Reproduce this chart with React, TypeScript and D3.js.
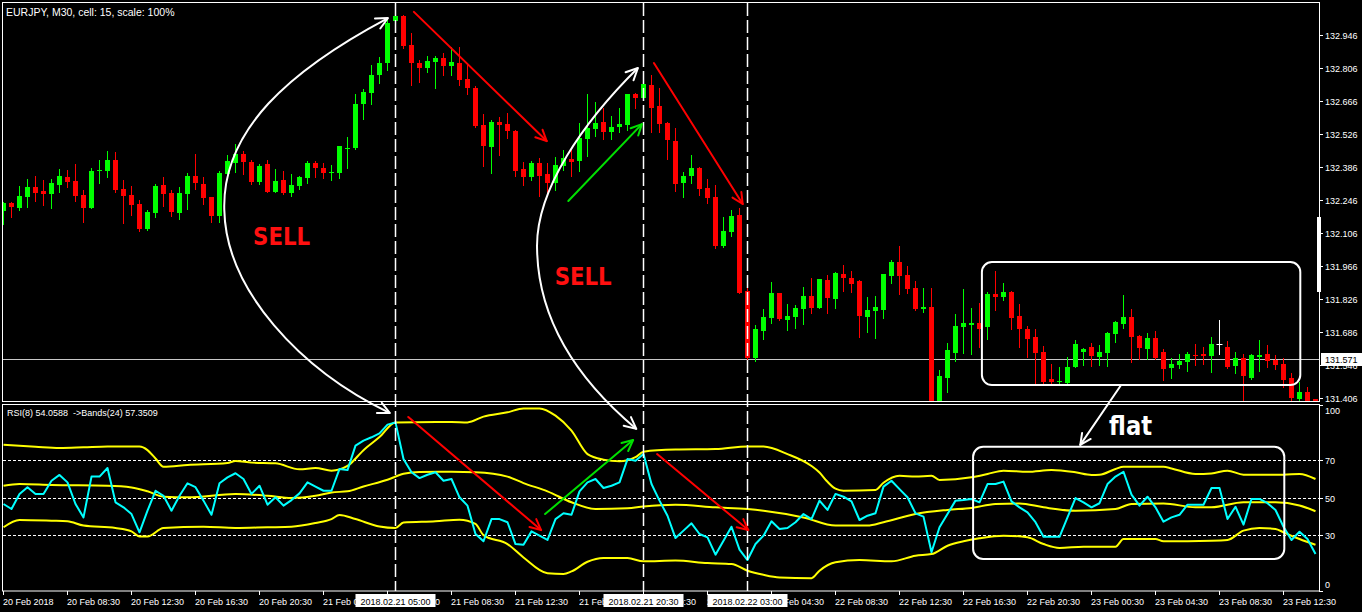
import React, { useEffect, useRef } from "react";
import * as d3 from "d3";

const symbolTitle = "EURJPY, M30, cell: 15, scale: 100%";
const rsiTitle = "RSI(8) 54.0588  ->Bands(24) 57.3509";

const candleOpen = [
  132.201,132.232,132.212,132.260,132.300,132.284,132.273,132.310,132.344,132.327,
  132.267,132.213,132.369,132.370,132.416,132.293,132.267,132.229,132.122,132.192,
  132.310,132.277,132.192,132.271,132.348,132.314,132.259,132.178,132.358,132.404,
  132.441,132.409,132.322,132.399,132.280,132.330,132.277,132.307,132.341,132.402,
  132.380,132.359,132.362,132.464,132.468,132.652,132.701,132.775,132.826,133.005,
  133.027,132.904,132.829,132.807,132.833,132.848,132.816,132.829,132.759,132.722,
  132.564,132.472,132.578,132.568,132.539,132.378,132.345,132.404,132.356,132.319,
  132.390,132.421,132.411,132.506,132.546,132.577,132.536,132.556,132.565,132.696,
  132.680,132.734,132.645,132.574,132.498,132.319,132.348,132.383,132.297,132.260,
  132.051,132.112,132.182,131.860,131.577,131.690,131.747,131.850,131.737,131.751,
  131.784,131.839,131.789,131.907,131.826,131.932,131.914,131.902,131.751,131.776,
  131.779,131.925,131.983,131.928,131.871,131.784,131.792,131.363,131.492,131.598,
  131.708,131.717,131.723,131.707,131.847,131.836,131.856,131.754,131.699,131.665,
  131.601,131.487,131.472,131.471,131.539,131.602,131.622,131.581,131.598,131.677,
  131.720,131.750,131.669,131.614,131.659,131.601,131.534,131.546,131.560,131.588,
  131.593,131.585,131.634,131.622,131.543,131.574,131.489,131.581,131.591,131.567,
  131.550,131.492,131.400,131.431,131.400
];
const candleHigh = [
  132.238,132.239,132.305,132.335,132.348,132.331,132.335,132.376,132.373,132.399,
  132.288,132.380,132.416,132.454,132.450,132.331,132.305,132.246,132.204,132.314,
  132.345,132.288,132.302,132.359,132.441,132.345,132.260,132.369,132.437,132.484,
  132.454,132.416,132.399,132.416,132.376,132.370,132.356,132.349,132.410,132.411,
  132.402,132.395,132.475,132.513,132.694,132.718,132.819,132.854,133.010,133.035,
  133.031,132.956,132.840,132.857,132.857,132.868,132.896,132.896,132.826,132.730,
  132.611,132.585,132.599,132.616,132.543,132.406,132.413,132.423,132.404,132.427,
  132.458,132.465,132.571,132.694,132.663,132.635,132.602,132.635,132.696,132.700,
  132.741,132.776,132.722,132.578,132.550,132.364,132.437,132.387,132.335,132.310,
  132.175,132.204,132.213,131.882,131.716,131.784,131.899,131.851,131.805,131.801,
  131.877,131.915,131.912,131.927,131.941,131.970,131.945,131.907,131.833,131.839,
  131.932,131.991,132.051,131.966,131.902,131.871,131.871,131.525,131.638,131.762,
  131.867,131.788,131.808,131.856,131.945,131.893,131.860,131.805,131.711,131.697,
  131.627,131.549,131.539,131.581,131.652,131.618,131.638,131.631,131.686,131.733,
  131.843,131.782,131.673,131.680,131.690,131.613,131.574,131.593,131.602,131.635,
  131.622,131.666,131.737,131.646,131.602,131.593,131.593,131.652,131.631,131.588,
  131.574,131.513,131.474,131.454,131.402
];
const candleLow = [
  132.144,132.175,132.204,132.218,132.243,132.225,132.213,132.280,132.300,132.242,
  132.154,132.212,132.319,132.345,132.279,132.150,132.182,132.116,132.119,132.175,
  132.221,132.178,132.165,132.208,132.293,132.229,132.151,132.151,132.356,132.365,
  132.356,132.314,132.314,132.278,132.278,132.271,132.263,132.293,132.317,132.345,
  132.338,132.331,132.341,132.380,132.462,132.588,132.652,132.744,132.798,132.993,
  132.890,132.734,132.748,132.790,132.722,132.776,132.776,132.734,132.696,132.554,
  132.390,132.362,132.437,132.508,132.348,132.310,132.331,132.263,132.281,132.288,
  132.373,132.348,132.370,132.434,132.518,132.504,132.504,132.536,132.543,132.638,
  132.677,132.536,132.533,132.420,132.285,132.260,132.319,132.269,132.235,132.044,
  132.047,132.093,131.851,131.570,131.564,131.656,131.723,131.737,131.694,131.704,
  131.720,131.767,131.786,131.765,131.789,131.861,131.857,131.666,131.685,131.659,
  131.744,131.895,131.847,131.850,131.779,131.772,131.334,131.347,131.433,131.564,
  131.596,131.593,131.624,131.655,131.779,131.822,131.697,131.624,131.579,131.471,
  131.471,131.471,131.465,131.469,131.537,131.546,131.542,131.546,131.543,131.645,
  131.702,131.560,131.571,131.571,131.571,131.482,131.492,131.532,131.520,131.546,
  131.550,131.517,131.593,131.532,131.513,131.390,131.487,131.522,131.539,131.528,
  131.454,131.394,131.393,131.389,131.380
];
const candleClose = [
  132.235,132.215,132.263,132.300,132.277,132.273,132.318,132.348,132.324,132.264,
  132.213,132.369,132.373,132.416,132.288,132.264,132.226,132.122,132.196,132.305,
  132.271,132.195,132.277,132.348,132.317,132.256,132.178,132.362,132.411,132.441,
  132.407,132.322,132.392,132.280,132.325,132.277,132.310,132.342,132.403,132.380,
  132.362,132.364,132.475,132.468,132.652,132.704,132.775,132.826,132.999,133.027,
  132.901,132.829,132.807,132.836,132.848,132.816,132.833,132.755,132.722,132.560,
  132.475,132.578,132.564,132.539,132.369,132.345,132.404,132.348,132.319,132.395,
  132.424,132.407,132.510,132.551,132.571,132.536,132.556,132.568,132.696,132.680,
  132.737,132.638,132.568,132.501,132.314,132.348,132.383,132.293,132.256,132.051,
  132.114,132.179,131.853,131.577,131.699,131.750,131.850,131.740,131.754,131.789,
  131.839,131.789,131.910,131.831,131.936,131.916,131.890,131.755,131.779,131.792,
  131.932,131.983,131.925,131.868,131.784,131.792,131.355,131.499,131.610,131.711,
  131.723,131.723,131.700,131.847,131.836,131.856,131.747,131.700,131.658,131.598,
  131.475,131.475,131.478,131.539,131.635,131.614,131.584,131.601,131.682,131.728,
  131.750,131.665,131.618,131.659,131.574,131.529,131.550,131.563,131.593,131.584,
  131.585,131.635,131.634,131.539,131.574,131.499,131.588,131.588,131.564,131.546,
  131.482,131.408,131.431,131.394,131.393
];

const rsiValues = [
  46.6,43.9,52.0,55.6,52.0,52.0,59.1,62.2,58.2,46.6,
  39.4,61.3,61.3,65.9,47.5,44.8,41.2,31.4,43.0,53.7,
  51.0,43.0,51.0,57.7,55.6,48.4,40.8,57.7,60.9,63.1,
  60.0,52.0,56.4,46.2,50.2,45.7,48.7,52.3,58.2,55.9,
  53.7,53.7,65.4,64.8,77.9,80.6,82.4,84.5,89.2,90.4,
  70.7,63.6,60.5,62.3,63.6,59.1,60.0,50.2,45.7,30.5,
  26.6,38.5,38.5,36.8,25.1,24.7,31.9,29.6,27.3,38.5,
  41.6,40.8,53.4,58.2,60.0,55.2,56.4,58.2,70.7,69.8,
  73.4,57.3,48.4,40.3,28.3,32.3,36.2,30.5,28.7,19.4,
  26.9,34.4,22.1,16.5,25.1,29.6,37.3,33.2,33.7,36.8,
  41.2,38.5,48.4,43.4,52.0,50.5,48.0,38.0,40.3,41.6,
  55.9,59.1,54.6,50.2,41.6,39.8,20.7,34.1,41.2,48.4,
  48.7,49.3,47.5,57.3,57.3,58.6,48.0,44.8,42.1,36.8,
  29.0,29.0,29.0,39.4,49.8,47.5,44.8,47.0,57.3,61.3,
  63.9,51.6,45.7,50.5,44.8,37.1,39.4,40.8,46.2,46.2,
  46.2,55.2,55.2,38.5,45.1,35.5,49.3,49.3,47.0,43.4,
  34.4,27.3,31.7,27.8,19.8
];

// Bollinger bands on RSI: [bar index, value]
const bandUpper: [number, number][] = [
  [0,78.4],[4,77.3],[7,76.6],[10,77.0],[13,77.5],[17,77.4],[18,75.5],[19,71.0],[20,66.6],[23,67.5],
  [28,68.6],[29,69.7],[31,68.8],[34,68.4],[37,65.2],[39,65.9],[41,64.5],[43,67.0],[45,75.5],[47,82.5],
  [49,90.4],[56,90.6],[58,90.4],[60,93.5],[63,95.8],[65,97.9],[67,97.9],[69,94.0],[71,86.0],[73,73.4],
  [75,70.4],[77,69.5],[79,71.7],[80,74.7],[84,75.8],[89,76.1],[93,77.5],[95,77.4],[98,73.4],[101,67.0],
  [102,63.5],[103,58.5],[104,54.8],[105,53.7],[109,54.1],[110,58.0],[112,61.8],[114,61.3],[116,61.8],[117,59.5],
  [121,60.9],[123,62.7],[125,64.5],[128,63.9],[131,64.8],[134,63.6],[136,62.2],[137,62.3],[139,65.4],[140,66.6],
  [145,66.6],[146,65.7],[149,62.7],[151,63.0],[153,64.5],[155,62.3],[160,62.3],[162,62.7],[164,60.0]
];
const bandMiddle: [number, number][] = [
  [0,56.4],[2,57.3],[6,56.8],[13,56.4],[16,55.5],[18,53.4],[20,50.5],[23,50.2],[29,51.9],[33,51.0],
  [36,49.8],[39,51.0],[41,52.8],[43,53.4],[45,56.0],[48,59.6],[50,62.8],[52,63.8],[56,63.9],[59,63.6],
  [63,61.3],[65,57.8],[68,53.4],[71,47.5],[74,43.9],[78,44.3],[80,45.3],[84,46.2],[89,44.8],[93,43.9],
  [95,43.0],[100,39.4],[104,35.0],[108,35.0],[110,36.8],[114,41.2],[118,43.4],[121,44.5],[124,46.6],[127,46.9],
  [130,44.8],[134,43.0],[139,43.9],[141,46.6],[145,46.9],[149,44.8],[151,44.8],[155,47.5],[159,47.5],[162,45.8],
  [164,42.7]
];
const bandLower: [number, number][] = [
  [0,34.1],[2,38.0],[6,37.6],[8,37.3],[10,35.0],[14,33.7],[16,31.9],[17,29.2],[18,29.2],[20,33.7],
  [25,34.4],[29,33.7],[33,34.1],[36,34.4],[39,36.4],[41,38.5],[42,40.7],[44,38.5],[47,34.5],[49,33.7],
  [50,36.6],[54,37.3],[57,38.2],[59,35.9],[60,29.9],[63,25.1],[65,17.9],[68,9.4],[70,9.0],[71,10.4],
  [73,15.6],[75,17.6],[78,17.6],[80,15.8],[84,16.2],[88,14.9],[91,14.4],[93,10.8],[95,8.6],[97,7.2],
  [101,6.8],[102,10.8],[104,15.3],[107,16.5],[111,15.8],[114,18.8],[116,19.7],[118,24.2],[120,26.6],[122,28.2],
  [125,29.6],[128,28.7],[130,25.1],[132,23.0],[135,23.7],[139,23.7],[140,27.8],[144,27.8],[145,26.6],[151,26.9],
  [153,27.3],[155,32.3],[157,33.7],[159,33.2],[160,31.4],[162,27.8],[164,24.7]
];

const priceTicks = [132.946,132.806,132.666,132.526,132.386,132.246,132.106,131.966,131.826,131.686,131.546,131.406];
const rsiTicks = [100, 70, 50, 30, 0];
const rsiLevels = [70, 50, 30];
const currentPrice = 131.571;

const timeTickIndex = [0,8,16,24,32,40,48,56,64,72,80,88,96,104,112,120,128,136,144,152,160];
const timeTickLabels = [
  "20 Feb 2018","20 Feb 08:30","20 Feb 12:30","20 Feb 16:30","20 Feb 20:30",
  "21 Feb 00:30","21 Feb 04:30","21 Feb 08:30","21 Feb 12:30","21 Feb 16:30",
  "21 Feb 20:30","22 Feb 00:30","22 Feb 04:30","22 Feb 08:30","22 Feb 12:30",
  "22 Feb 16:30","22 Feb 20:30","23 Feb 00:30","23 Feb 04:30","23 Feb 08:30","23 Feb 12:30"
];
const markerIndex = [49, 80, 93];
const markerLabels = ["2018.02.21 05:00", "2018.02.21 20:30", "2018.02.22 03:00"];

// annotations, in chart coordinates [bar index, price] or [bar index, rsi]
const leftCurvePrice: [number, number][] = [[48.06,133.018],[35.8,132.797],[27.3,132.543],[27.6,132.204],[27.8,131.864],[37.1,131.525]];
const leftCurveRsiEnd: [number, number] = [48.3, 95.4];
const rightCurvePrice: [number, number][] = [[79.3,132.806],[72.7,132.585],[66.4,132.288],[66.7,132.034],[66.9,131.694],[73.3,131.440]];
const rightCurveRsiEnd: [number, number] = [79.1, 86.9];
const redArrowsPrice = [[51.3,133.044,67.9,132.496],[81.3,132.827,92.4,132.229]];
const greenArrowsPrice = [[70.6,132.242,79.8,132.568]];
const redArrowsRsi = [[50.6,93.3,67.2,32.6],[81.7,73.4,93.1,32.6]];
const greenArrowsRsi = [[67.7,41.2,78.7,80.9]];
const flatArrowFrom: [number, number] = [139.7, 131.461];
const flatArrowToRsi: [number, number] = [134.6, 78.3];
const flatBoxPrice = [122.3, 131.983, 162.1, 131.461];
const flatBoxRsi = [121.2, 77.3, 160.1, 17.1];
const sellLabels: [number, number][] = [[31.2, 132.055], [68.9, 131.885]];
const flatLabel: [number, number] = [138.2, 83.6];

const FONT = "'Liberation Sans', Arial, sans-serif";

export default function App() {
  const ref = useRef<SVGSVGElement | null>(null);

  useEffect(() => {
    const svg = d3.select(ref.current);
    svg.selectAll("*").remove();

    const x = d3.scaleLinear().domain([0, 1]).range([3.5, 11.5]);
    const yP = d3.scaleLinear().domain([131.406, 132.946]).range([398, 35]);
    const yR = d3.scaleLinear().domain([0, 100]).range([590.8, 404.5]);

    svg.append("rect").attr("width", 1362).attr("height", 612).attr("fill", "#000");

    const defs = svg.append("defs");
    defs.append("clipPath").attr("id", "clipMain").append("rect")
      .attr("x", 3).attr("y", 3).attr("width", 1316).attr("height", 398);
    defs.append("clipPath").attr("id", "clipRsi").append("rect")
      .attr("x", 3).attr("y", 405).attr("width", 1316).attr("height", 186);

    // panel frames
    svg.append("rect").attr("x", 2.5).attr("y", 2.5).attr("width", 1317).attr("height", 399)
      .attr("fill", "none").attr("stroke", "#fff").attr("stroke-width", 1);
    svg.append("rect").attr("x", 2.5).attr("y", 404.5).attr("width", 1317).attr("height", 186.5)
      .attr("fill", "none").attr("stroke", "#fff").attr("stroke-width", 1);

    // current price line
    const yCur = Math.round(yP(currentPrice)) + 0.5;
    svg.append("line").attr("x1", 3).attr("x2", 1319).attr("y1", yCur).attr("y2", yCur)
      .attr("stroke", "#c8c8c8").attr("stroke-width", 1);

    // candles
    const gC = svg.append("g").attr("clip-path", "url(#clipMain)");
    candleOpen.forEach((o, i) => {
      const c = candleClose[i], h = candleHigh[i], l = candleLow[i];
      const col = c > o ? "#00ff00" : c < o ? "#ff0000" : "#ffffff";
      const cx = x(i);
      gC.append("line").attr("x1", cx).attr("x2", cx)
        .attr("y1", Math.round(yP(h))).attr("y2", Math.round(yP(l)) + 1)
        .attr("stroke", col).attr("stroke-width", 1);
      const yt = Math.round(yP(Math.max(o, c)));
      const yb = Math.round(yP(Math.min(o, c)));
      if (c === o) {
        gC.append("line").attr("x1", cx - 3).attr("x2", cx + 3).attr("y1", yt + 0.5).attr("y2", yt + 0.5)
          .attr("stroke", col).attr("stroke-width", 1);
      } else {
        gC.append("rect").attr("x", cx - 2.5).attr("width", 5)
          .attr("y", yt).attr("height", Math.max(1, yb - yt)).attr("fill", col);
      }
    });

    // RSI levels
    rsiLevels.forEach((v) => {
      const yy = Math.round(yR(v)) + 0.5;
      svg.append("line").attr("x1", 3).attr("x2", 1319).attr("y1", yy).attr("y2", yy)
        .attr("stroke", "#fff").attr("stroke-width", 1).attr("stroke-dasharray", "3,2");
    });

    // bands and RSI
    const gR = svg.append("g").attr("clip-path", "url(#clipRsi)");
    const bandLine = d3.line<[number, number]>().x((d) => x(d[0])).y((d) => yR(d[1])).curve(d3.curveMonotoneX);
    [bandUpper, bandMiddle, bandLower].forEach((b) => {
      gR.append("path").attr("d", bandLine(b) as string).attr("fill", "none")
        .attr("stroke", "#ffff00").attr("stroke-width", 2).attr("stroke-linejoin", "round");
    });
    const rsiLine = d3.line<number>().x((_d, i) => x(i)).y((d) => yR(d));
    gR.append("path").attr("d", rsiLine(rsiValues) as string).attr("fill", "none")
      .attr("stroke", "#00ffff").attr("stroke-width", 2).attr("stroke-linejoin", "round");

    // vertical dashed markers
    markerIndex.forEach((i) => {
      svg.append("line").attr("x1", x(i)).attr("x2", x(i)).attr("y1", 3).attr("y2", 591)
        .attr("stroke", "#fff").attr("stroke-width", 1.5).attr("stroke-dasharray", "13,4");
    });

    // annotation helpers
    const pm = (d: [number, number] | number[]): [number, number] => [x(d[0]), yP(d[1])];
    const pr = (d: [number, number] | number[]): [number, number] => [x(d[0]), yR(d[1])];
    const head = (tip: [number, number], from: [number, number], col: string, len = 12) => {
      const ang = Math.atan2(tip[1] - from[1], tip[0] - from[0]);
      const a = 0.45;
      const p1 = [tip[0] - len * Math.cos(ang - a), tip[1] - len * Math.sin(ang - a)];
      const p2 = [tip[0] - len * Math.cos(ang + a), tip[1] - len * Math.sin(ang + a)];
      svg.append("path").attr("d", `M${p1[0]},${p1[1]}L${tip[0]},${tip[1]}L${p2[0]},${p2[1]}`)
        .attr("fill", "none").attr("stroke", col).attr("stroke-width", 2)
        .attr("stroke-linecap", "round").attr("stroke-linejoin", "round");
    };
    const arrow = (a: [number, number], b: [number, number], col: string) => {
      svg.append("line").attr("x1", a[0]).attr("y1", a[1]).attr("x2", b[0]).attr("y2", b[1])
        .attr("stroke", col).attr("stroke-width", 2).attr("stroke-linecap", "round");
      head(b, a, col);
    };
    const curve = (pts: [number, number][], end: [number, number]) => {
      const p = pts.map(pm);
      const e = pr(end);
      const d = `M${p[0]}C${p[1]} ${p[2]} ${p[3]}C${p[4]} ${p[5]} ${e}`;
      svg.append("path").attr("d", d).attr("fill", "none").attr("stroke", "#fff").attr("stroke-width", 2);
      head(p[0], p[1], "#fff", 13);
      head(e, p[5], "#fff", 13);
    };

    curve(leftCurvePrice, leftCurveRsiEnd);
    curve(rightCurvePrice, rightCurveRsiEnd);
    redArrowsPrice.forEach((r) => arrow(pm([r[0], r[1]]), pm([r[2], r[3]]), "#ff0000"));
    greenArrowsPrice.forEach((r) => arrow(pm([r[0], r[1]]), pm([r[2], r[3]]), "#00e000"));
    redArrowsRsi.forEach((r) => arrow(pr([r[0], r[1]]), pr([r[2], r[3]]), "#ff0000"));
    greenArrowsRsi.forEach((r) => arrow(pr([r[0], r[1]]), pr([r[2], r[3]]), "#00e000"));
    arrow(pm(flatArrowFrom), pr(flatArrowToRsi), "#ffffff");

    // flat boxes
    const bx = (x0: number, y0: number, x1: number, y1: number) =>
      svg.append("rect").attr("x", x0).attr("y", y0).attr("width", x1 - x0).attr("height", y1 - y0)
        .attr("rx", 10).attr("ry", 10).attr("fill", "none").attr("stroke", "#fff").attr("stroke-width", 2);
    bx(x(flatBoxPrice[0]), yP(flatBoxPrice[1]), x(flatBoxPrice[2]), yP(flatBoxPrice[3]));
    bx(x(flatBoxRsi[0]), yR(flatBoxRsi[1]), x(flatBoxRsi[2]), yR(flatBoxRsi[3]));

    // annotation texts
    sellLabels.forEach((s) => {
      const [sx, sy] = pm(s);
      svg.append("text").attr("x", sx).attr("y", sy).text("SELL")
        .attr("fill", "#ff1010").attr("font-family", "'Comic Sans MS', 'DejaVu Sans', sans-serif")
        .attr("font-weight", "bold").attr("font-size", 24)
        .attr("textLength", 57).attr("lengthAdjust", "spacingAndGlyphs");
    });
    {
      const [fx, fy] = pr(flatLabel);
      svg.append("text").attr("x", fx).attr("y", fy).text("flat")
        .attr("fill", "#fff").attr("font-family", "'Comic Sans MS', 'DejaVu Sans', sans-serif")
        .attr("font-weight", "bold").attr("font-size", 26)
        .attr("textLength", 43).attr("lengthAdjust", "spacingAndGlyphs");
    }

    // titles
    svg.append("text").attr("x", 6).attr("y", 16).text(symbolTitle)
      .attr("fill", "#fff").attr("font-family", FONT).attr("font-size", 10.5);
    svg.append("text").attr("x", 7).attr("y", 416).text(rsiTitle)
      .attr("xml:space", "preserve").style("white-space", "pre")
      .attr("fill", "#fff").attr("font-family", FONT).attr("font-size", 9);

    // price axis
    priceTicks.forEach((v) => {
      const yy = Math.round(yP(v)) + 0.5;
      svg.append("line").attr("x1", 1319).attr("x2", 1323).attr("y1", yy).attr("y2", yy)
        .attr("stroke", "#fff");
      svg.append("text").attr("x", 1325).attr("y", yy + 3.5).text(v.toFixed(3))
        .attr("fill", "#fff").attr("font-family", FONT).attr("font-size", 9);
    });
    svg.append("rect").attr("x", 1317).attr("y", 217).attr("width", 4).attr("height", 75).attr("fill", "#fff");
    svg.append("rect").attr("x", 1321).attr("y", yCur - 6.5).attr("width", 41).attr("height", 13).attr("fill", "#fff");
    svg.append("text").attr("x", 1325).attr("y", yCur + 3.5).text(currentPrice.toFixed(3))
      .attr("fill", "#000").attr("font-family", FONT).attr("font-size", 9);

    // rsi axis
    rsiTicks.forEach((v) => {
      const yy = Math.round(yR(v)) + 0.5;
      svg.append("line").attr("x1", 1319).attr("x2", 1323).attr("y1", yy).attr("y2", yy).attr("stroke", "#fff");
      const ly = Math.min(Math.max(yy, 410), 584);
      svg.append("text").attr("x", 1325).attr("y", ly + 3.5).text(String(v))
        .attr("fill", "#fff").attr("font-family", FONT).attr("font-size", 9);
    });

    // time axis
    timeTickIndex.forEach((idx, k) => {
      const tx = x(idx);
      svg.append("line").attr("x1", tx).attr("x2", tx).attr("y1", 591).attr("y2", 595).attr("stroke", "#fff");
      svg.append("text").attr("x", tx - 0.5).attr("y", 605).text(timeTickLabels[k])
        .attr("fill", "#fff").attr("font-family", FONT).attr("font-size", 9);
    });
    markerIndex.forEach((idx, k) => {
      const tx = x(idx);
      svg.append("rect").attr("x", tx - 40).attr("y", 594).attr("width", 80).attr("height", 13).attr("fill", "#fff");
      svg.append("text").attr("x", tx).attr("y", 605).attr("text-anchor", "middle").text(markerLabels[k])
        .attr("fill", "#000").attr("font-family", FONT).attr("font-size", 9);
    });
  }, []);

  return (
    <svg ref={ref} width={1362} height={612}
      style={{ position: "absolute", left: 0, top: 0, display: "block", background: "#000" }} />
  );
}
